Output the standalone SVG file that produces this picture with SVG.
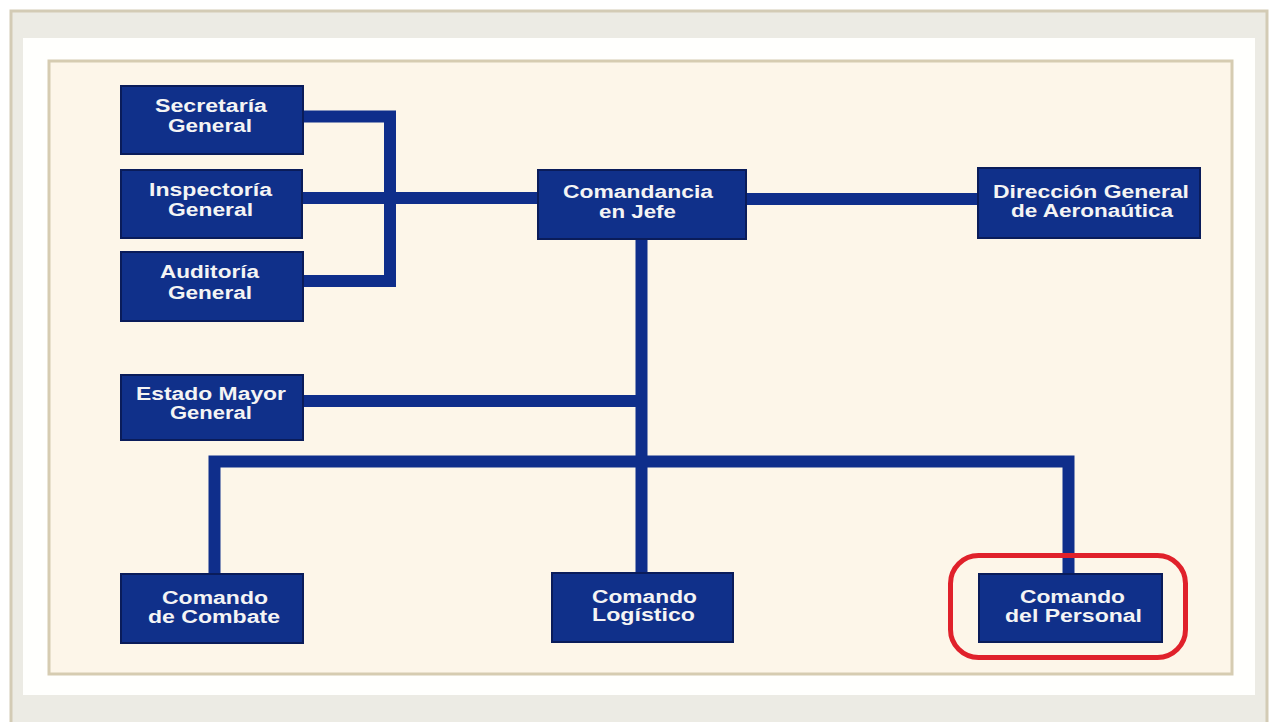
<svg xmlns="http://www.w3.org/2000/svg" width="1277" height="722" viewBox="0 0 1277 722">
<style>
.box{fill:#10308a;stroke:#0a1c5a;stroke-width:2}
.t{fill:#f4f4f4;font-family:"Liberation Sans",Arial,sans-serif;font-weight:bold;font-size:18px;text-anchor:middle}
.ln{fill:none;stroke:#0f2e8b;stroke-width:12}
</style>
<rect x="0" y="0" width="1277" height="722" fill="#ffffff"/>
<rect x="11" y="11" width="1256" height="720" fill="#ecebe4" stroke="#d3cbb5" stroke-width="3"/>
<rect x="23" y="38" width="1232" height="657" fill="#fffffd"/>
<rect x="49" y="61" width="1183" height="613" fill="#fdf6e9" stroke="#d6ccb1" stroke-width="3"/>
<g id="connectors">
<path class="ln" d="M304,116.5 H390 V281 H304"/>
<path class="ln" d="M302,198 H537"/>
<path class="ln" d="M747,199 H977"/>
<path class="ln" d="M641.5,239 V572"/>
<path class="ln" d="M304,401 H641.5"/>
<path class="ln" d="M214.5,573 V461.5 H1068.5 V573"/>
</g>
<g id="secretaria"><rect class="box" x="121" y="86" width="182" height="68"/>
<text class="t" x="211" y="112" textLength="112" lengthAdjust="spacingAndGlyphs">Secretaría</text>
<text class="t" x="210" y="132" textLength="84" lengthAdjust="spacingAndGlyphs">General</text></g>
<g id="inspectoria"><rect class="box" x="121" y="170" width="181" height="68"/>
<text class="t" x="210.5" y="196" textLength="123" lengthAdjust="spacingAndGlyphs">Inspectoría</text>
<text class="t" x="210.5" y="216" textLength="85" lengthAdjust="spacingAndGlyphs">General</text></g>
<g id="auditoria"><rect class="box" x="121" y="252" width="182" height="69"/>
<text class="t" x="209.5" y="278" textLength="99" lengthAdjust="spacingAndGlyphs">Auditoría</text>
<text class="t" x="210" y="299" textLength="84" lengthAdjust="spacingAndGlyphs">General</text></g>
<g id="comandancia"><rect class="box" x="538" y="170" width="208" height="69"/>
<text class="t" x="638" y="198" textLength="150" lengthAdjust="spacingAndGlyphs">Comandancia</text>
<text class="t" x="637.5" y="218" textLength="77" lengthAdjust="spacingAndGlyphs">en Jefe</text></g>
<g id="direccion"><rect class="box" x="978" y="168" width="222" height="70"/>
<text class="t" x="1091" y="198" textLength="196" lengthAdjust="spacingAndGlyphs">Dirección General</text>
<text class="t" x="1092" y="217" textLength="162" lengthAdjust="spacingAndGlyphs">de Aeronaútica</text></g>
<g id="estado-mayor"><rect class="box" x="121" y="375" width="182" height="65"/>
<text class="t" x="211" y="400" textLength="150" lengthAdjust="spacingAndGlyphs">Estado Mayor</text>
<text class="t" x="211" y="419" textLength="82" lengthAdjust="spacingAndGlyphs">General</text></g>
<g id="combate"><rect class="box" x="121" y="574" width="182" height="69"/>
<text class="t" x="215" y="604" textLength="106" lengthAdjust="spacingAndGlyphs">Comando</text>
<text class="t" x="214" y="623" textLength="132" lengthAdjust="spacingAndGlyphs">de Combate</text></g>
<g id="logistico"><rect class="box" x="552" y="573" width="181" height="69"/>
<text class="t" x="644.5" y="603" textLength="105" lengthAdjust="spacingAndGlyphs">Comando</text>
<text class="t" x="643.5" y="621" textLength="103" lengthAdjust="spacingAndGlyphs">Logístico</text></g>
<g id="personal"><rect class="box" x="979" y="574" width="183" height="68"/>
<text class="t" x="1072.5" y="603" textLength="105" lengthAdjust="spacingAndGlyphs">Comando</text>
<text class="t" x="1073.5" y="622" textLength="137" lengthAdjust="spacingAndGlyphs">del Personal</text></g>
<rect id="highlight" x="950.5" y="555.5" width="235" height="102" rx="28" ry="28" fill="none" stroke="#e0212b" stroke-width="5"/>
</svg>
